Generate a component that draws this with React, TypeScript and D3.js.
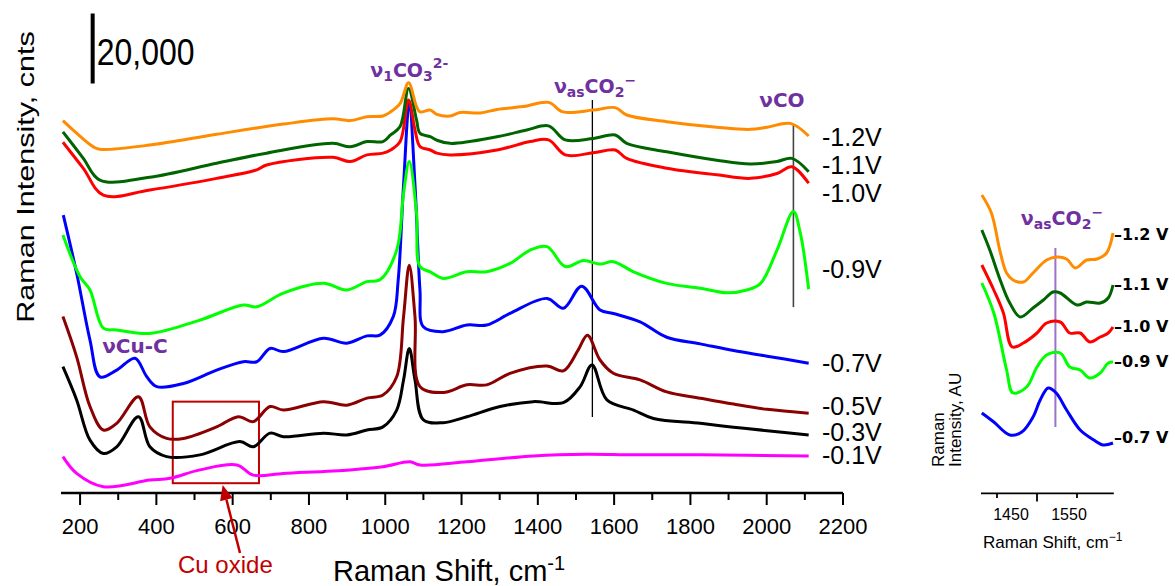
import React from "react";
import * as d3 from "d3";

type Pt = [number, number];

// ---------------- Main panel: [Raman shift (cm-1), stacked intensity (counts)] ----------------
const spectrumM12: Pt[] = [
  [155, 106400], [191, 102800], [235, 98900], [252, 98200], [383, 99400], [558, 102500], [733, 105400],
  [863, 106900], [908, 106400], [952, 107500], [994, 107700], [1014, 108900], [1039, 111300], [1061, 117200],
  [1082, 110400], [1091, 108900], [1118, 109400], [1135, 108200], [1170, 107700], [1196, 108700], [1249, 108600],
  [1293, 109600], [1361, 110400], [1428, 111600], [1466, 108900], [1545, 109400], [1603, 110100], [1633, 108000],
  [1738, 106100], [1869, 104500], [1957, 103900], [2001, 104500], [2062, 105600], [2110, 102000],
];
const spectrumM11: Pt[] = [
  [155, 103200], [208, 95700], [252, 89400], [383, 90200], [558, 94200], [689, 97100], [863, 99900],
  [908, 98900], [952, 100400], [994, 100400], [1014, 102300], [1039, 104700], [1061, 115600], [1082, 106600],
  [1091, 102800], [1118, 101800], [1135, 100800], [1170, 99900], [1293, 101800], [1371, 103700], [1428, 104900],
  [1472, 100900], [1545, 101300], [1603, 102300], [1633, 99900], [1738, 97500], [1869, 95100], [1957, 94000],
  [2027, 94700], [2066, 95600], [2110, 91800],
];
const spectrumM10: Pt[] = [
  [155, 100200], [208, 92800], [261, 85100], [383, 86600], [558, 89900], [663, 92300], [689, 93700],
  [863, 95900], [908, 94700], [952, 96600], [994, 97100], [1014, 98000], [1039, 100400], [1061, 112300],
  [1078, 103700], [1091, 99000], [1118, 98000], [1135, 97100], [1170, 96600], [1293, 98000], [1380, 100400],
  [1428, 100900], [1472, 96600], [1545, 97200], [1603, 98000], [1633, 95600], [1738, 92800], [1869, 90900],
  [1957, 89900], [2027, 91300], [2066, 93200], [2110, 88500],
];
const spectrumM09: Pt[] = [
  [155, 73700], [200, 61800], [226, 58000], [261, 47100], [296, 46600], [383, 45600], [514, 49400],
  [628, 53700], [663, 53200], [733, 57100], [838, 59900], [899, 58000], [952, 60400], [986, 60900],
  [1030, 69400], [1048, 85700], [1063, 94700], [1082, 80000], [1091, 64700], [1118, 63200], [1152, 61300],
  [1214, 63200], [1266, 63200], [1327, 65600], [1380, 69400], [1424, 70400], [1472, 64700], [1520, 66400],
  [1563, 65400], [1598, 66100], [1651, 63200], [1738, 59900], [1826, 58500], [1896, 57200], [1948, 58000],
  [1984, 59900], [2027, 69400], [2070, 80400], [2088, 74300], [2110, 58200],
];
const spectrumM07: Pt[] = [
  [156, 79400], [191, 62800], [226, 43700], [252, 33200], [296, 35100], [344, 38500], [375, 33200],
  [401, 30400], [471, 31300], [558, 35100], [628, 37500], [663, 37500], [698, 41300], [733, 40400],
  [838, 44200], [899, 42800], [952, 44900], [986, 45100], [1021, 50400], [1034, 60900], [1048, 88000],
  [1063, 111300], [1078, 88000], [1091, 58000], [1100, 47500], [1152, 46100], [1214, 48000], [1266, 48000],
  [1327, 51300], [1424, 55600], [1467, 52800], [1515, 59100], [1563, 52300], [1598, 51300], [1668, 48900],
  [1738, 44500], [1826, 42600], [1913, 40700], [2001, 39100], [2110, 37100],
];
const spectrumM05: Pt[] = [
  [155, 50400], [191, 38900], [226, 24700], [261, 18000], [296, 19900], [353, 27500], [383, 18900],
  [427, 15600], [471, 15600], [558, 18900], [615, 21800], [654, 20400], [698, 24700], [733, 23700],
  [838, 26100], [899, 25100], [952, 27100], [994, 28000], [1030, 33200], [1048, 50400], [1063, 65100],
  [1078, 50400], [1091, 30400], [1152, 28700], [1214, 30900], [1266, 30900], [1327, 34200], [1424, 36300],
  [1467, 34900], [1506, 40900], [1530, 45100], [1563, 38000], [1598, 34200], [1668, 32300], [1738, 28900],
  [1826, 27100], [1913, 25400], [2001, 23900], [2110, 22800],
];
const spectrumM03: Pt[] = [
  [155, 36100], [191, 26600], [226, 15100], [261, 11300], [296, 13200], [353, 21800], [383, 13200],
  [427, 10400], [514, 10900], [619, 14700], [654, 13200], [698, 17100], [733, 16100], [838, 17100],
  [899, 16600], [952, 18000], [994, 18900], [1030, 23700], [1048, 32300], [1063, 41300], [1078, 32300],
  [1100, 20900], [1152, 20100], [1214, 21800], [1301, 24700], [1388, 26100], [1467, 25800], [1511, 30400],
  [1542, 36600], [1581, 26600], [1651, 23700], [1703, 21300], [1826, 19900], [1913, 18800], [2001, 17800],
  [2110, 16600],
];
const spectrumM01: Pt[] = [
  [155, 10400], [191, 5600], [261, 1800], [383, 3700], [436, 4200], [514, 6600], [611, 8000], [654, 5100],
  [733, 5600], [908, 6600], [994, 7500], [1065, 8900], [1091, 8000], [1214, 8900], [1388, 10600],
  [1528, 11100], [1651, 10900], [1826, 10900], [2110, 10600],
];

const mainLabels = ["-1.2V", "-1.1V", "-1.0V", "-0.9V", "-0.7V", "-0.5V", "-0.3V", "-0.1V"];
const xMajorTicks = [200, 400, 600, 800, 1000, 1200, 1400, 1600, 1800, 2000, 2200];
const xMinorTicks = [300, 500, 700, 900, 1100, 1300, 1500, 1700, 1900, 2100];

// scale bar (counts)
const scaleBarShift = 233;
const scaleBarFrom = 117000;
const scaleBarLength = 20000;

// annotation lines: [shift, from counts, to counts]
const co2Line: [number, number, number] = [1543, 21700, 112300];
const coLine: [number, number, number] = [2070, 53100, 105100];
// Cu oxide box: shift range and counts range
const cuOxideShift: [number, number] = [443, 669];
const cuOxideCounts: [number, number] = [2800, 26100];

// ---------------- Inset: [Raman shift (cm-1), intensity (AU)] ----------------
const insetM12: Pt[] = [
  [1431, 29.8], [1443, 28.0], [1454, 24.1], [1462, 22.0], [1470, 21.3], [1483, 21.1], [1495, 22.0],
  [1512, 23.3], [1525, 23.6], [1537, 23.4], [1548, 22.5], [1562, 23.3], [1575, 23.4], [1587, 24.0], [1595, 26.0],
];
const insetM11: Pt[] = [
  [1431, 26.3], [1441, 24.3], [1454, 21.3], [1466, 19.0], [1479, 17.6], [1495, 18.5], [1508, 19.3],
  [1520, 20.1], [1529, 20.0], [1550, 18.8], [1562, 19.1], [1579, 19.0], [1589, 19.5], [1595, 20.8],
];
const insetM10: Pt[] = [
  [1431, 22.8], [1446, 20.3], [1458, 18.0], [1469, 14.6], [1483, 15.0], [1500, 16.0], [1512, 17.0],
  [1529, 17.1], [1541, 16.0], [1554, 16.0], [1566, 15.1], [1579, 15.6], [1589, 16.0], [1595, 16.6],
];
const insetM09: Pt[] = [
  [1431, 21.0], [1446, 18.0], [1462, 12.3], [1470, 10.0], [1487, 10.6], [1500, 12.6], [1512, 13.8],
  [1529, 14.0], [1541, 12.6], [1554, 12.3], [1566, 11.5], [1579, 12.0], [1589, 13.0], [1595, 13.1],
];
const insetM07: Pt[] = [
  [1431, 8.0], [1446, 7.1], [1466, 5.8], [1481, 6.1], [1495, 7.6], [1504, 9.3], [1514, 10.5],
  [1524, 10.0], [1537, 8.3], [1554, 6.3], [1571, 5.3], [1583, 4.8], [1595, 5.0],
];
const insetLabels = ["\u20131.2 V", "\u20131.1 V", "\u20131.0 V", "\u20130.9 V", "\u20130.7 V"];
const insetTicks = [1450, 1500, 1550];
const insetTickLabels = ["1450", "", "1550"];
const insetPeakLine: [number, number, number] = [1523, 6.6, 24.5];

const FONT = "'Liberation Sans', Arial, sans-serif";
const BOLDFONT = "'DejaVu Sans', Verdana, sans-serif";
const PURPLE = "#7030A0";
const CURED = "#C00000";

export default function App() {
  const x = d3.scaleLinear().domain([150, 2200]).range([61, 843]);
  const y = d3.scaleLinear().domain([0, 140000]).range([493, 3]);
  const line = d3
    .line<Pt>()
    .x((d) => x(d[0]))
    .y((d) => y(d[1]))
    .curve(d3.curveCatmullRom.alpha(0.5));

  const xi = d3.scaleLinear().domain([1430, 1596]).range([981, 1113.8]);
  const yi = d3.scaleLinear().domain([0, 30]).range([493, 193]);
  const lineI = d3
    .line<Pt>()
    .x((d) => xi(d[0]))
    .y((d) => yi(d[1]))
    .curve(d3.curveCatmullRom.alpha(0.5));

  const mainSeries = [
    { data: spectrumM01, color: "#FF00FF", label: mainLabels[7], ly: 464 },
    { data: spectrumM03, color: "#000000", label: mainLabels[6], ly: 441 },
    { data: spectrumM05, color: "#8B0000", label: mainLabels[5], ly: 415 },
    { data: spectrumM07, color: "#0000FF", label: mainLabels[4], ly: 372 },
    { data: spectrumM09, color: "#00FF00", label: mainLabels[3], ly: 278 },
    { data: spectrumM10, color: "#FF0000", label: mainLabels[2], ly: 202 },
    { data: spectrumM11, color: "#006400", label: mainLabels[1], ly: 174 },
    { data: spectrumM12, color: "#FF8C00", label: mainLabels[0], ly: 146 },
  ];
  const insetSeries = [
    { data: insetM07, color: "#0000FF", label: insetLabels[4], ly: 443 },
    { data: insetM09, color: "#00FF00", label: insetLabels[3], ly: 367 },
    { data: insetM10, color: "#FF0000", label: insetLabels[2], ly: 332 },
    { data: insetM11, color: "#006400", label: insetLabels[1], ly: 290 },
    { data: insetM12, color: "#FF8C00", label: insetLabels[0], ly: 240 },
  ];

  const axisY = y(0);

  // Cu oxide arrow geometry
  const tail: [number, number] = [240, 553];
  const tip: [number, number] = [222.7, 485];
  const dx = tip[0] - tail[0];
  const dy = tip[1] - tail[1];
  const len = Math.hypot(dx, dy);
  const ux = dx / len;
  const uy = dy / len;
  const headL = 15;
  const headW = 6.5;
  const bx = tip[0] - ux * headL;
  const by = tip[1] - uy * headL;
  const head = `${tip[0]},${tip[1]} ${bx - uy * headW},${by + ux * headW} ${bx + uy * headW},${by - ux * headW}`;

  return (
    <svg
      width={1175}
      height={586}
      style={{ position: "absolute", left: 0, top: 0, background: "#fff" }}
      fontFamily={FONT}
    >
      {/* y axis title */}
      <text
        transform="translate(34,177) rotate(-90) scale(1.33,1)"
        textAnchor="middle"
        fontSize={23}
        fill="#000"
      >
        Raman Intensity, cnts
      </text>

      {/* scale bar */}
      <line
        x1={x(scaleBarShift)}
        x2={x(scaleBarShift)}
        y1={y(scaleBarFrom)}
        y2={y(scaleBarFrom + scaleBarLength)}
        stroke="#000"
        strokeWidth={4}
      />
      <text transform={`translate(${x(scaleBarShift) + 4},65) scale(1,1.15)`} fontSize={32}>
        20,000
      </text>

      {/* Cu oxide box */}
      <rect
        x={x(cuOxideShift[0])}
        y={y(cuOxideCounts[1])}
        width={x(cuOxideShift[1]) - x(cuOxideShift[0])}
        height={y(cuOxideCounts[0]) - y(cuOxideCounts[1])}
        fill="none"
        stroke={CURED}
        strokeWidth={2}
      />

      {/* annotation lines */}
      <line x1={x(co2Line[0])} x2={x(co2Line[0])} y1={y(co2Line[1])} y2={y(co2Line[2])} stroke="#000" strokeWidth={1.3} />
      <line x1={x(coLine[0])} x2={x(coLine[0])} y1={y(coLine[1])} y2={y(coLine[2])} stroke="#444" strokeWidth={1.6} />

      {/* spectra */}
      {mainSeries.map((s, i) => (
        <path key={i} d={line(s.data) || ""} fill="none" stroke={s.color} strokeWidth={3} strokeLinejoin="round" />
      ))}

      {/* voltage labels */}
      {mainSeries.map((s, i) => (
        <text key={i} x={822} y={s.ly} fontSize={25}>
          {s.label}
        </text>
      ))}

      {/* x axis */}
      <line x1={x(150)} x2={x(2200)} y1={axisY} y2={axisY} stroke="#000" strokeWidth={2.5} />
      {xMajorTicks.map((t) => (
        <g key={t}>
          <line x1={x(t)} x2={x(t)} y1={axisY} y2={axisY + 12} stroke="#000" strokeWidth={2} />
          <text x={x(t)} y={534} textAnchor="middle" fontSize={22}>
            {t}
          </text>
        </g>
      ))}
      {xMinorTicks.map((t) => (
        <line key={t} x1={x(t)} x2={x(t)} y1={axisY} y2={axisY + 7} stroke="#000" strokeWidth={2} />
      ))}
      <text x={333} y={581} fontSize={29}>
        Raman Shift, cm<tspan dy={-11} fontSize={20}>-1</tspan>
      </text>

      {/* peak labels */}
      <g fontFamily={BOLDFONT} fontWeight="bold" fill={PURPLE}>
        <text x={x(1063)} y={77} textAnchor="middle" fontSize={19}>
          ν<tspan dy={4} fontSize={14}>1</tspan>
          <tspan dy={-4}>CO</tspan>
          <tspan dy={4} fontSize={14}>3</tspan>
          <tspan dy={-13} fontSize={14}>2-</tspan>
        </text>
        <text x={x(1550)} y={93} textAnchor="middle" fontSize={19}>
          ν<tspan dy={4} fontSize={14}>as</tspan>
          <tspan dy={-4}>CO</tspan>
          <tspan dy={4} fontSize={14}>2</tspan>
          <tspan dy={-12} fontSize={14}>−</tspan>
        </text>
        <text x={x(2040)} y={107} textAnchor="middle" fontSize={20}>
          νCO
        </text>
        <text x={x(344)} y={353} textAnchor="middle" fontSize={20}>
          νCu-C
        </text>
      </g>

      {/* Cu oxide label + arrow */}
      <line x1={tail[0]} y1={tail[1]} x2={bx} y2={by} stroke={CURED} strokeWidth={2.5} />
      <polygon points={head} fill={CURED} />
      <text x={178} y={573} fontSize={24} fill={CURED}>
        Cu oxide
      </text>

      {/* ---------------- inset ---------------- */}
      <line
        x1={xi(insetPeakLine[0])}
        x2={xi(insetPeakLine[0])}
        y1={yi(insetPeakLine[1])}
        y2={yi(insetPeakLine[2])}
        stroke="#9B72CB"
        strokeWidth={2}
      />
      {insetSeries.map((s, i) => (
        <path key={i} d={lineI(s.data) || ""} fill="none" stroke={s.color} strokeWidth={3} strokeLinejoin="round" />
      ))}
      {insetSeries.map((s, i) => (
        <text key={i} x={1114} y={s.ly} fontSize={16} fontWeight="bold" fontFamily={BOLDFONT}>
          {s.label}
        </text>
      ))}
      <text x={1062} y={225} textAnchor="middle" fontSize={19} fontWeight="bold" fontFamily={BOLDFONT} fill={PURPLE}>
        ν<tspan dy={4} fontSize={14}>as</tspan>
        <tspan dy={-4}>CO</tspan>
        <tspan dy={4} fontSize={14}>2</tspan>
        <tspan dy={-12} fontSize={14}>−</tspan>
      </text>
      <line x1={xi(1430)} x2={xi(1596)} y1={yi(0) + 0.3} y2={yi(0) + 0.3} stroke="#000" strokeWidth={1.8} />
      {insetTicks.map((t, i) => (
        <line
          key={t}
          x1={xi(t)}
          x2={xi(t)}
          y1={yi(0)}
          y2={yi(0) + (insetTickLabels[i] ? 5 : 8.5)}
          stroke="#000"
          strokeWidth={1.8}
        />
      ))}
      {insetTicks.map((t, i) =>
        insetTickLabels[i] ? (
          <text key={t} x={xi(t) + (i === 0 ? 14 : -8)} y={520} textAnchor="middle" fontSize={16}>
            {insetTickLabels[i]}
          </text>
        ) : null
      )}
      <text x={983} y={548} fontSize={17}>
        Raman Shift, cm<tspan dy={-7} fontSize={12}>−1</tspan>
      </text>
      <text transform="translate(944,467) rotate(-90)" fontSize={17}>
        Raman
      </text>
      <text transform="translate(961,467) rotate(-90)" fontSize={17}>
        Intensity, AU
      </text>
    </svg>
  );
}
